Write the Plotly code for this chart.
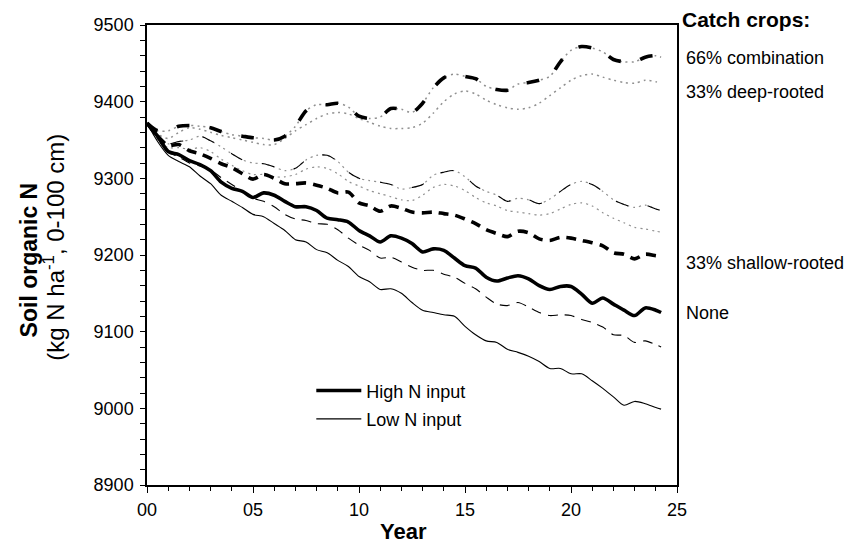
import plotly.graph_objects as go

years = [0, 0.5, 1, 1.5, 2, 2.5, 3, 3.5, 4, 4.5, 5, 5.5, 6, 6.5, 7, 7.5, 8, 8.5, 9, 9.5,
         10, 10.5, 11, 11.5, 12, 12.5, 13, 13.5, 14, 14.5, 15, 15.5, 16, 16.5, 17, 17.5,
         18, 18.5, 19, 19.5, 20, 20.5, 21, 21.5, 22, 22.5, 23, 23.5, 24, 24.25]

# High N input
high_none = [9372, 9355, 9335, 9331, 9323, 9318, 9310, 9295, 9287, 9283, 9275, 9281, 9278, 9270,
             9263, 9263, 9258, 9248, 9246, 9243, 9232, 9225, 9217, 9225, 9222, 9215, 9204, 9208,
             9206, 9196, 9186, 9183, 9171, 9166, 9170, 9173, 9169, 9160, 9155, 9159, 9159, 9149,
             9137, 9144, 9136, 9128, 9121, 9131, 9128, 9125]
high_shallow = [9372, 9355, 9343, 9344, 9336, 9332, 9326, 9319, 9314, 9306, 9299, 9305, 9300, 9293,
                9293, 9294, 9291, 9287, 9281, 9282, 9268, 9264, 9257, 9264, 9261, 9256, 9255, 9256,
                9254, 9252, 9247, 9241, 9233, 9228, 9224, 9231, 9229, 9221, 9219, 9223, 9222, 9219,
                9216, 9212, 9203, 9201, 9195, 9201, 9199, 9198]
high_deep = [9372, 9358, 9352, 9360, 9366, 9364, 9360, 9356, 9353, 9350, 9347, 9344, 9344, 9352,
             9362, 9370, 9378, 9384, 9386, 9384, 9378, 9373, 9368, 9365, 9365, 9366, 9372, 9385,
             9400, 9410, 9414, 9410, 9402, 9396, 9392, 9390, 9392, 9398, 9408, 9418, 9428, 9434,
             9436, 9432, 9428, 9425, 9424, 9428, 9426, 9424]
high_comb = [9372, 9362, 9362, 9368, 9369, 9368, 9366, 9361, 9357, 9355, 9353, 9352, 9350, 9355,
             9368, 9388, 9396, 9396, 9398, 9393, 9381, 9378, 9380, 9391, 9390, 9386, 9398, 9418,
             9431, 9436, 9433, 9430, 9420, 9416, 9415, 9423, 9425, 9428, 9433, 9452, 9467, 9472,
             9470, 9465, 9455, 9452, 9452, 9458, 9460, 9458]

# Low N input
low_none = [9372, 9348, 9330, 9322, 9315, 9303, 9293, 9278, 9270, 9262, 9253, 9250, 9241, 9232,
            9220, 9217, 9207, 9203, 9193, 9185, 9172, 9165, 9155, 9156, 9150, 9138, 9128, 9125,
            9122, 9120, 9107, 9096, 9088, 9086, 9077, 9073, 9068, 9061, 9052, 9052, 9045, 9045,
            9036, 9026, 9015, 9004, 9009, 9006, 9001, 8999]
low_shallow = [9372, 9352, 9334, 9328, 9320, 9316, 9311, 9301, 9292, 9283, 9274, 9270, 9263, 9253,
               9247, 9245, 9241, 9240, 9233, 9222, 9213, 9206, 9196, 9197, 9191, 9184, 9180, 9180,
               9175, 9171, 9163, 9156, 9145, 9136, 9134, 9138, 9132, 9125, 9121, 9122, 9121, 9116,
               9112, 9106, 9096, 9095, 9086, 9088, 9083, 9080]
low_deep = [9372, 9350, 9340, 9340, 9338, 9340, 9335, 9325, 9317, 9310, 9305, 9305, 9302, 9302,
            9305, 9312, 9315, 9313, 9306, 9296, 9290, 9284, 9280, 9276, 9272, 9271, 9278, 9288,
            9292, 9290, 9284, 9275, 9268, 9264, 9258, 9256, 9254, 9252, 9254, 9260, 9266, 9268,
            9264, 9255, 9248, 9242, 9236, 9234, 9231, 9230]
low_comb = [9372, 9352, 9345, 9348, 9350, 9355, 9349, 9341, 9332, 9324, 9320, 9319, 9315, 9310,
            9313, 9324, 9330, 9330, 9322, 9308, 9300, 9297, 9295, 9292, 9286, 9288, 9292, 9304,
            9308, 9310, 9302, 9290, 9283, 9278, 9270, 9274, 9272, 9267, 9273, 9283, 9292, 9296,
            9292, 9283, 9272, 9266, 9262, 9265, 9260, 9258]

x_tickvals = [0, 5, 10, 15, 20, 25]
x_ticktext = ["00", "05", "10", "15", "20", "25"]
catch_labels = ["66% combination", "33% deep-rooted", "33% shallow-rooted", "None"]
catch_label_y = [9457, 9412, 9190, 9125]  # data-space anchors for right-side labels

FONT = "Arial, Liberation Sans, Helvetica, sans-serif"
THICK = 3.6
THIN = 1.1
DOT = "#909090"

fig = go.Figure()

def add(y, width, color, dash, name=None, show=False, rank=1000, group=None):
    fig.add_trace(go.Scatter(
        x=years, y=y, mode="lines",
        line=dict(color=color, width=width, dash=dash, shape="spline", smoothing=0.8),
        name=name or "series", showlegend=show, legendrank=rank, legendgroup=group,
        hoverinfo="skip"))

# dotted underlays (deep-rooted and the dotted part of combination)
add(low_deep, 1.2, DOT, "2px,4px")
add(low_comb, 1.2, DOT, "2px,4px")
add(high_deep, 1.5, DOT, "2px,4px")
add(high_comb, 1.5, DOT, "2px,4px")
# dashed parts of combination
add(low_comb, THIN, "black", "13px,20px")
add(high_comb, THICK, "black", "13px,20px")
# shallow-rooted
add(low_shallow, THIN, "black", "10px,7px")
add(high_shallow, THICK, "black", "10px,7px")
# none
add(low_none, THIN, "black", "solid", "Low N input", True, 2, "low")
add(high_none, THICK, "black", "solid", "High N input", True, 1, "high")

axis_common = dict(showline=True, linecolor="black", linewidth=1.5, mirror=True,
                   ticks="outside", tickcolor="black", tickwidth=1, showgrid=False,
                   zeroline=False, tickfont=dict(family=FONT, size=18, color="black"))

fig.update_xaxes(range=[0, 25], tickvals=x_tickvals, ticktext=x_ticktext, ticklen=6,
                 ticklabelstandoff=2,
                 minor=dict(dtick=1, ticks="outside", ticklen=4, tickcolor="black", tickwidth=1),
                 **axis_common)
fig.update_yaxes(range=[8900, 9500], dtick=100, ticklen=5, ticklabelstandoff=3,
                 minor=dict(dtick=20, ticks="outside", ticklen=5, tickcolor="black", tickwidth=1),
                 **axis_common)

annotations = [
    dict(text="<b>Year</b>", xref="paper", yref="paper", x=0.484, y=-0.1,
         xanchor="center", yanchor="middle", showarrow=False,
         font=dict(family=FONT, size=22, color="black")),
    dict(text="<b>Soil organic N</b>", xref="paper", yref="paper", x=-0.222, y=0.489,
         xanchor="center", yanchor="middle", showarrow=False, textangle=-90,
         font=dict(family=FONT, size=23, color="black")),
    dict(text="(kg N ha<sup>-1</sup>, 0-100 cm)", xref="paper", yref="paper", x=-0.1745, y=0.517,
         xanchor="center", yanchor="middle", showarrow=False, textangle=-90,
         font=dict(family=FONT, size=24, color="black")),
    dict(text="<b>Catch crops:</b>", xref="paper", yref="paper", x=1.006, y=1.011,
         xanchor="left", yanchor="middle", showarrow=False,
         font=dict(family=FONT, size=21, color="black")),
]
for lab, yv in zip(catch_labels, catch_label_y):
    annotations.append(dict(text=lab, xref="paper", yref="y", x=1.013, y=yv,
                            xanchor="left", yanchor="middle", showarrow=False,
                            font=dict(family=FONT, size=18, color="black")))

fig.update_layout(
    width=847, height=544,
    margin=dict(l=147, r=170, t=25, b=59),
    paper_bgcolor="white", plot_bgcolor="white",
    font=dict(family=FONT, size=18, color="black"),
    annotations=annotations,
    legend=dict(x=0.31, y=0.245, xanchor="left", yanchor="top",
                bgcolor="rgba(0,0,0,0)", borderwidth=0, tracegroupgap=2,
                font=dict(family=FONT, size=18, color="black"), itemwidth=45),
)

fig.write_html("out.html")
